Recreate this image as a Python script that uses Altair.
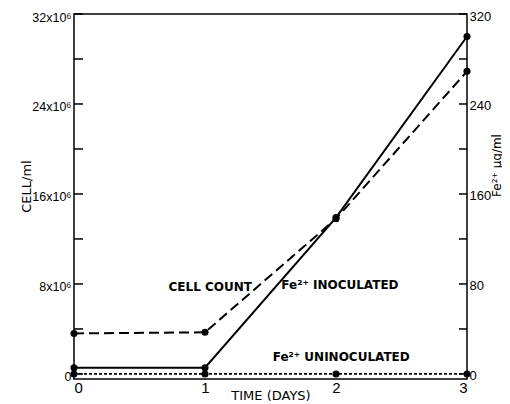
import altair as alt
import pandas as pd

days = [0, 1, 2, 3]
cell_count = [3.6e6, 3.7e6, 13.8e6, 26.9e6]          # cells/ml
fe_inoculated = [5.5, 5.5, 139, 300]                 # Fe2+ ug/ml
fe_uninoculated = [0, 0, 0, 0]                       # Fe2+ ug/ml

left_ticks = [0, 4e6, 8e6, 12e6, 16e6, 20e6, 24e6, 28e6, 32e6]
left_labels = [0, 8e6, 16e6, 24e6, 32e6]
right_ticks = [0, 40, 80, 120, 160, 200, 240, 280, 320]
right_labels = [0, 80, 160, 240, 320]

ann_text = ["CELL COUNT", "Fe²⁺ INOCULATED", "Fe²⁺ UNINOCULATED"]
ann_day = [1.04, 2.03, 2.04]
ann_cells = [7.7e6, 7.9e6, 1.5e6]

FONT = "DejaVu Sans"
AFONT = "Liberation Sans"
W, H = 393, 365

df_cell = pd.DataFrame({"day": days, "v": cell_count})
df_inoc = pd.DataFrame({"day": days, "v": fe_inoculated})
df_unin = pd.DataFrame({"day": days, "v": fe_uninoculated})
df_lt = pd.DataFrame({"v": left_ticks})
df_rt = pd.DataFrame({"v": right_ticks})
df_ann = pd.DataFrame({"t": ann_text, "day": ann_day, "v": ann_cells})

X = alt.X("day:Q", scale=alt.Scale(domain=[0, 3], nice=False, zero=False),
          axis=alt.Axis(values=days, format="d", ticks=False, domain=False, grid=False,
                        labelFontSize=15, labelPadding=1, labelFont=AFONT,
                        title="TIME (DAYS)", titleFontSize=13, titleFont=FONT,
                        titleFontWeight="normal", titlePadding=-6))

YL = alt.Y("v:Q", scale=alt.Scale(domain=[-0.45e6, 32e6], nice=False, zero=False),
           axis=alt.Axis(values=left_labels, ticks=False, domain=False, grid=False,
                         labelExpr="datum.value == 0 ? '0' : format(datum.value/1e6, 'd') + 'x10⁶'",
                         labelFontSize=12.5, labelFont=AFONT, labelPadding=3, labelOffset=3,
                         title="CELL/ml", titleFont=FONT, titleFontSize=13,
                         titleFontWeight="normal", titleAngle=270,
                         titleX=-48, titleY=172, titleBaseline="middle"))

YR = alt.Y("v:Q", scale=alt.Scale(domain=[-4.5, 320], nice=False, zero=False),
           axis=alt.Axis(orient="right", values=right_labels, ticks=False, domain=False, grid=False,
                         labelFontSize=13, labelFont=AFONT, labelPadding=2, labelOffset=2,
                         title="Fe²⁺ µg/ml", titleFont=FONT, titleFontSize=12,
                         titleFontWeight="normal", titleAngle=270,
                         titleX=29, titleY=151, titleBaseline="middle"))

cell_line = alt.Chart(df_cell).mark_line(color="black", strokeWidth=2, strokeDash=[10, 5]).encode(x=X, y=YL)
cell_pts = alt.Chart(df_cell).mark_point(filled=True, color="black", size=50, opacity=1).encode(x=X, y=YL)
lticks = alt.Chart(df_lt).mark_rule(color="black", strokeWidth=1.5).encode(
    y=YL, x=alt.value(0), x2=alt.value(9))
ann = alt.Chart(df_ann).mark_text(font=FONT, fontSize=12, color="black", fontWeight=600).encode(
    x=X, y=YL, text="t:N")

left = alt.layer(cell_line, cell_pts, lticks, ann)

inoc_line = alt.Chart(df_inoc).mark_line(color="black", strokeWidth=2).encode(x=X, y=YR)
inoc_pts = alt.Chart(df_inoc).mark_point(filled=True, color="black", size=50, opacity=1).encode(x=X, y=YR)
unin_line = alt.Chart(df_unin).mark_line(color="black", strokeWidth=1.8, strokeDash=[3, 2]).encode(x=X, y=YR)
unin_pts = alt.Chart(df_unin).mark_point(filled=True, color="black", size=50, opacity=1).encode(x=X, y=YR)
rticks = alt.Chart(df_rt).mark_rule(color="black", strokeWidth=1.5).encode(
    y=YR, x=alt.value(W - 8), x2=alt.value(W))

right = alt.layer(inoc_line, inoc_pts, unin_line, unin_pts, rticks)

chart = alt.layer(left, right).resolve_scale(y="independent").properties(
    width=W, height=H,
    autosize=alt.AutoSizeParams(type="none"),
    padding={"left": 66, "top": 6, "right": 35, "bottom": 30},
    background="white",
).configure_view(stroke="black", strokeWidth=1.5).configure_axis(labelColor="black", titleColor="black")

chart.save("out.html", embed_options={"renderer": "svg", "actions": False})
